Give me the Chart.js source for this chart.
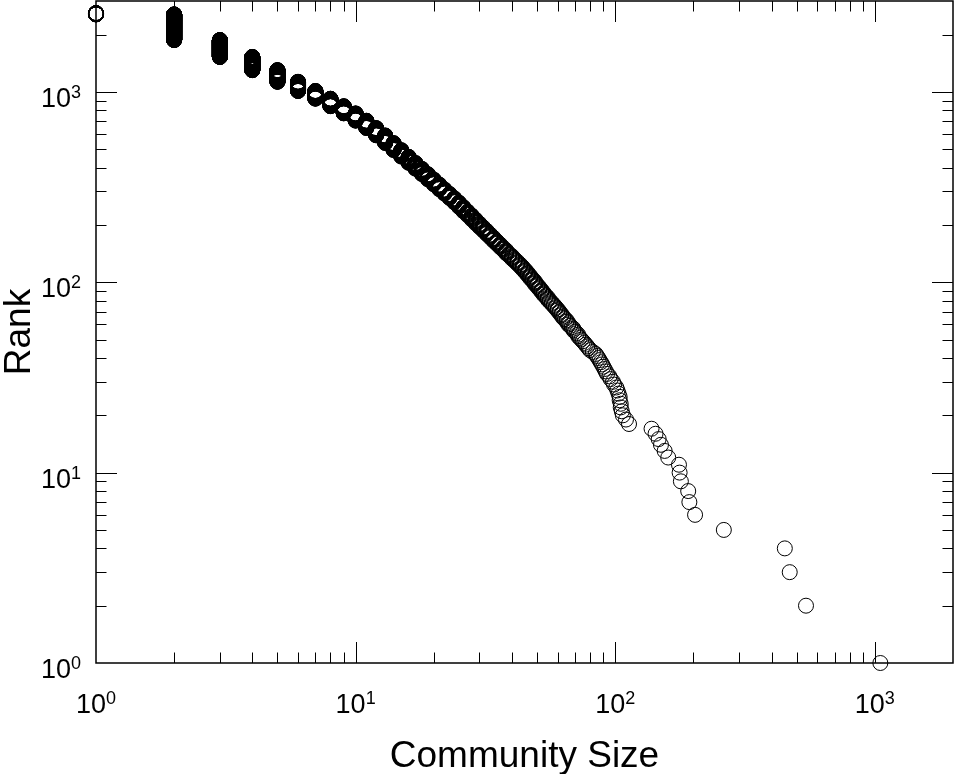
<!DOCTYPE html>
<html>
<head>
<meta charset="utf-8">
<script src="https://cdn.jsdelivr.net/npm/chart.js@4"></script>
<style>
html,body{margin:0;padding:0;background:#fff;}
#wrap{width:955px;height:774px;position:relative;}
</style>
</head>
<body>
<div id="wrap"><canvas id="c"></canvas></div>
<script>
// Distinct community sizes (largest first) and how many communities have each size.
const communitySizes = [1050,543,470,450,262,203,193,191,179,177,176,160,155,150,147,143,138,113,110,107,106,105,104,103,102,101,99,98,96,95,93,92,91,90,89,88,87,86,85,84,82,80,79,78,77,
  76,75,74,73,72,71,70,69,68,67,66,65,64,63,62,61,60,59,58,57,56,55,54,53,52,51,50,49,48,47,46,45,44,43,42,41,40,39,38,37,36,35,34,33,32,31,30,29,28,27,26,25,24,23,22,21,20,19,18,17,16,15,14,13,12,11,10,9,8,7,6,5,4,3,2,1];
const communityCounts = [1,1,1,1,1,1,1,1,1,1,1,1,1,1,1,1,1,1,1,1,1,2,2,1,1,1,1,1,1,1,1,1,1,1,1,1,1,1,1,1,1,1,1,1,1,
  1,1,1,1,2,1,1,2,1,1,2,2,1,2,2,2,2,2,2,2,2,3,2,3,3,3,3,4,3,4,4,4,4,4,4,4,5,4,6,5,6,6,7,7,8,8,9,10,11,11,13,14,14,15,16,19,20,23,25,29,33,38,44,52,55,60,65,70,80,90,119,170,225,346,680,40];

// Axis tick labels
const majorTicks = [1, 10, 100, 1000];
const tickBase = '10';
const tickExponents = ['0', '1', '2', '3'];
const xTitle = 'Community Size';
const yTitle = 'Rank';

// Build (size, rank) points: rank 1 = largest community
const points = [];
let rank = 0;
communitySizes.forEach((s, i) => {
  for (let k = 0; k < communityCounts[i]; k++) {
    rank++;
    points.push({x: s, y: rank});
  }
});

const FONT = "'Liberation Sans', Arial, Helvetica, sans-serif";

function tickList(min, max) {
  const out = [];
  for (let d = 1; d <= max; d *= 10) {
    for (let m = 1; m <= 9; m++) {
      const v = m * d;
      if (v >= min && v <= max) out.push({v, major: m === 1});
    }
  }
  return out;
}

function drawPow(ctx, x, baseY, exp, align) {
  ctx.font = '27px ' + FONT;
  const w10 = ctx.measureText(tickBase).width;
  ctx.font = '18px ' + FONT;
  const we = ctx.measureText(exp).width;
  const total = w10 + we;
  let sx = align === 'right' ? x - total : x - total / 2;
  ctx.textAlign = 'left';
  ctx.textBaseline = 'alphabetic';
  ctx.font = '27px ' + FONT;
  ctx.fillText(tickBase, sx, baseY);
  ctx.font = '18px ' + FONT;
  ctx.fillText(exp, sx + w10, baseY - 9);
}

const framePlugin = {
  id: 'logFrame',
  beforeDatasetsDraw(chart) {
    const {ctx, chartArea: a, scales: {x, y}} = chart;
    ctx.save();
    ctx.strokeStyle = '#000';
    ctx.lineWidth = 1;
    ctx.beginPath();
    tickList(x.min, x.max).forEach(t => {
      const px = Math.round(x.getPixelForValue(t.v)) + 0.5;
      if (px < a.left + 1 || px > a.right - 1) return;
      const len = t.major ? 21 : 10.5;
      ctx.moveTo(px, a.bottom); ctx.lineTo(px, a.bottom - len);
      ctx.moveTo(px, a.top); ctx.lineTo(px, a.top + len);
    });
    tickList(y.min, y.max).forEach(t => {
      const py = Math.round(y.getPixelForValue(t.v)) + 0.5;
      if (py < a.top + 1 || py > a.bottom - 1) return;
      const len = t.major ? 21 : 10.5;
      ctx.moveTo(a.left, py); ctx.lineTo(a.left + len, py);
      ctx.moveTo(a.right, py); ctx.lineTo(a.right - len, py);
    });
    ctx.stroke();
    ctx.lineWidth = 1.5;
    ctx.strokeRect(a.left, a.top, a.right - a.left, a.bottom - a.top);
    ctx.restore();
  },
  afterDraw(chart) {
    const {ctx, chartArea: a, scales: {x, y}} = chart;
    ctx.save();
    ctx.fillStyle = '#000';
    majorTicks.forEach((v, i) => {
      const px = x.getPixelForValue(v);
      drawPow(ctx, px, a.bottom + 50, tickExponents[i], 'center');
      const py = y.getPixelForValue(v);
      drawPow(ctx, 81, py + 15, tickExponents[i], 'right');
    });
    ctx.font = '37px ' + FONT;
    ctx.textAlign = 'center';
    ctx.textBaseline = 'alphabetic';
    ctx.fillText(xTitle, (a.left + a.right) / 2, 767);
    ctx.translate(30, (a.top + a.bottom) / 2);
    ctx.rotate(-Math.PI / 2);
    ctx.fillText(yTitle, 0, 0);
    ctx.restore();
  }
};

new Chart(document.getElementById('c'), {
  type: 'scatter',
  data: {
    datasets: [{
      data: points,
      pointRadius: 7.5,
      pointHoverRadius: 7.5,
      pointBorderWidth: 1,
      pointBorderColor: '#000',
      pointBackgroundColor: 'rgba(0,0,0,0)',
      showLine: false,
      clip: false
    }]
  },
  options: {
    animation: false,
    responsive: true,
    maintainAspectRatio: false,
    events: [],
    layout: {autoPadding: false, padding: {top: 1, right: 2, left: 0, bottom: 0}},
    plugins: {legend: {display: false}, tooltip: {enabled: false}},
    scales: {
      x: {
        type: 'logarithmic', min: 1, max: 2000,
        grid: {display: false}, border: {display: false}, ticks: {display: false},
        afterFit(s) { s.height = 111; }
      },
      y: {
        type: 'logarithmic', min: 1, max: 3000,
        grid: {display: false}, border: {display: false}, ticks: {display: false},
        afterFit(s) { s.width = 96; }
      }
    }
  },
  plugins: [framePlugin]
});
</script>
</body>
</html>
